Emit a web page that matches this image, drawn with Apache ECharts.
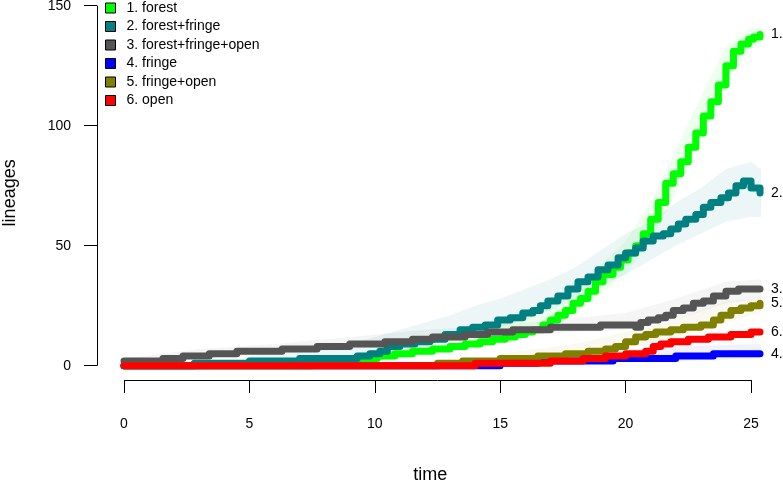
<!DOCTYPE html>
<html><head><meta charset="utf-8">
<script src="https://cdn.jsdelivr.net/npm/echarts@6/dist/echarts.min.js"></script>
<style>html,body{margin:0;padding:0;background:#fff}#c{width:783px;height:481px}</style>
</head><body><div id="c"></div>
<script>
// ---------- data ----------
const seriesNames = ['1. forest', '2. forest+fringe', '3. forest+fringe+open', '4. fringe', '5. fringe+open', '6. open'];
const endTags = ['1.', '2.', '3.', '4.', '5.', '6.'];
const xTicks = [0, 5, 10, 15, 20, 25];
const yTicks = [0, 50, 100, 150];

// [time, lineages]
const forest = [[0,0],[7.5,1],[8.8,2],[9.4,3],[10.1,4],[10.8,5],[11.5,6],[12.3,7],[13,8],[13.6,9],[14.2,10],[14.7,11],[15.2,12],[15.6,13],[16,14],[16.3,15],[16.7,17],[17,19],[17.3,21],[17.6,23],[17.9,26],[18.2,28],[18.5,31],[18.8,35],[19.1,38],[19.5,41],[19.8,44],[20.1,47],[20.4,50],[20.7,55],[21,61],[21.3,68],[21.6,76],[21.9,80],[22.2,85],[22.5,91],[22.8,97],[23.1,104],[23.4,110],[23.7,117],[24,125],[24.3,131],[24.6,134],[24.9,136],[25.1,137],[25.36,138]];
const forestFringe = [[0,0],[2.8,1],[5,2],[7,3],[9.3,4],[9.8,5],[10.2,6],[10.5,8],[11,9],[11.6,10],[12.2,11],[12.8,13],[13.4,15],[13.9,16],[14.4,17],[14.9,19],[15.4,20],[15.9,22],[16.3,23],[16.6,25],[16.9,27],[17.3,29],[17.7,32],[18.1,35],[18.5,37],[18.9,40],[19.3,42],[19.7,45],[20,47],[20.4,49],[20.7,52],[21.1,54],[21.5,55],[21.8,57],[22.1,59],[22.4,61],[22.8,63],[23.1,66],[23.4,68],[23.8,70],[24.1,72],[24.4,75],[24.7,77],[25,74],[25.36,72]];
const forestFringeOpen = [[0,2],[1.55,3],[2.35,4],[3.4,5],[4.5,6],[6.3,7],[7.7,8],[9,9],[10.4,10],[11.5,11],[12.3,12],[13.6,13],[14.5,14],[15.5,15],[17,16],[19,17],[20.4,16],[20.6,18],[20.9,19],[21.3,20],[21.6,21],[21.9,23],[22.3,24],[22.7,26],[23.1,27],[23.5,29],[24,31],[24.5,32],[25.36,32]];
const fringe = [[0,0],[15,1],[16.5,2],[19.5,3],[22,4],[23.5,5],[25.36,5]];
const fringeOpen = [[0,0],[12.5,1],[13.5,2],[15,3],[16.5,4],[17.6,5],[18.5,6],[19.2,7],[19.6,8],[20,10],[20.4,12],[20.8,13],[21.2,14],[21.8,15],[22.3,16],[23,17],[23.5,19],[23.8,21],[24.2,23],[24.6,24],[25,25],[25.36,26]];
const open = [[0,0],[14,1],[17,2],[18.3,3],[19.2,4],[20,5],[20.8,6],[21.1,8],[21.4,9],[21.8,10],[22.5,11],[23.3,12],[24.2,13],[25,14],[25.36,14]];

// spread of the simulated trajectories: [time, low, high]
const forestBand = [[9,1,4],[10,2,7],[11,3,9],[12,5,11],[13,6,13],[14,8,16],[15,10,19],[16,13,23],[17,17,27],[18,22,33],[19,30,42],[20,38,52],[21,52,68],[22,72,90],[23,95,112],[24,118,133],[25,132,141],[25.4,134,141]];
const forestFringeBand = [[5,1,4],[7,2,6],[9,3,9],[10,4,12],[11,6,15],[12,8,18],[13,11,21],[14,13,25],[15,16,28],[16,19,32],[17,23,36],[18,28,41],[19,33,48],[20,38,55],[21,44,60],[22,50,68],[23,55,74],[24,60,82],[25,62,85],[25.4,62,82]];
const forestFringeOpenBand = [[0,1,3],[3,3,7],[6,5,9],[9,7,12],[12,9,15],[15,12,17],[18,14,20],[20,15,22],[22,19,28],[24,26,35],[25.4,28,36]];
const fringeBand = [[15,0,3],[18,1,5],[20,2,6],[22,2,8],[25.4,3,9]];
const fringeOpenBand = [[15,1,5],[18,3,9],[20,7,14],[22,12,19],[24,18,27],[25.4,22,28]];

// ---------- chart ----------
const mainData = [forest, forestFringe, forestFringeOpen, fringe, fringeOpen, open];
const colors = ['#00ff00', '#008080', '#555555', '#0000ff', '#808000', '#ff0000'];
const bands = [
  {data: forestBand, color: 'rgba(0,255,0,0.07)'},
  {data: forestFringeBand, color: 'rgba(0,128,128,0.07)'},
  {data: forestFringeOpenBand, color: 'rgba(0,0,0,0.04)'},
  {data: fringeBand, color: 'rgba(0,0,255,0.05)'},
  {data: fringeOpenBand, color: 'rgba(128,128,0,0.05)'}
];
const FONT = '"Liberation Sans", Arial, Helvetica, sans-serif';
const X_MIN = -1.0766, X_MAX = 25.5, Y_MIN = -5.96, Y_MAX = 150;

const chart = echarts.init(document.getElementById('c'), null, {renderer: 'canvas'});

const series = [];
bands.forEach((b, bi) => {
  series.push({
    type: 'custom',
    name: 'band' + bi,
    z: 1,
    silent: true,
    data: b.data,
    encode: {x: 0, y: [1, 2]},
    renderItem: function (params, api) {
      if (params.dataIndex !== 0) return null;
      const pts = [];
      b.data.forEach(d => pts.push(api.coord([d[0], d[2]])));
      for (let i = b.data.length - 1; i >= 0; i--) pts.push(api.coord([b.data[i][0], b.data[i][1]]));
      return {type: 'polygon', shape: {points: pts}, style: {fill: b.color}};
    }
  });
});
mainData.forEach((d, i) => {
  series.push({
    type: 'line',
    name: seriesNames[i],
    data: d,
    step: 'end',
    z: 2 + i,
    symbol: 'none',
    color: colors[i],
    lineStyle: {width: 7, color: colors[i], cap: 'round', join: 'round'},
    endLabel: {show: true, formatter: endTags[i], distance: 11, color: '#000', fontSize: 14, fontFamily: FONT},
    emphasis: {disabled: true}
  });
});

chart.setOption({
  animation: false,
  backgroundColor: '#fff',
  grid: {left: 97, top: 5.7, width: 25.08 * (X_MAX - X_MIN), height: 374.3, containLabel: false, outerBoundsMode: 'none'},
  legend: {
    data: seriesNames,
    orient: 'vertical',
    left: 105, top: 1,
    padding: 0,
    icon: 'rect',
    itemWidth: 10, itemHeight: 10,
    itemGap: 4.5,
    itemStyle: {borderColor: '#000', borderWidth: 1},
    textStyle: {fontSize: 14, fontFamily: FONT, color: '#000', lineHeight: 14, padding: [0, 0, 0, 6]},
    selectedMode: false
  },
  xAxis: {
    type: 'value', min: X_MIN, max: X_MAX,
    name: 'time', nameLocation: 'middle', nameGap: 86,
    nameTextStyle: {fontSize: 18, fontFamily: FONT, color: '#000'},
    axisLine: {show: false, onZero: false},
    axisTick: {show: true, inside: false, length: 13, customValues: xTicks, lineStyle: {color: '#000', width: 1}},
    axisLabel: {show: true, margin: 37, customValues: xTicks, fontSize: 14, fontFamily: FONT, color: '#000'},
    splitLine: {show: false}
  },
  yAxis: {
    type: 'value', min: Y_MIN, max: Y_MAX,
    name: 'lineages', nameLocation: 'middle', nameGap: 78,
    nameTextStyle: {fontSize: 18, fontFamily: FONT, color: '#000'},
    axisLine: {show: false, onZero: false},
    axisTick: {show: true, inside: false, length: 13, customValues: yTicks, lineStyle: {color: '#000', width: 1}},
    axisLabel: {show: true, margin: 26, customValues: yTicks, fontSize: 14, fontFamily: FONT, color: '#000'},
    splitLine: {show: false}
  },
  series: series
});

// R-style axis lines spanning only the tick range
const px = (v) => chart.convertToPixel({gridIndex: 0}, v);
const yA = px([X_MIN, yTicks[0]]), yB = px([X_MIN, yTicks[yTicks.length - 1]]);
const xA = px([xTicks[0], Y_MIN]), xB = px([xTicks[xTicks.length - 1], Y_MIN]);
chart.setOption({
  graphic: [
    {type: 'line', z: 100, shape: {x1: Math.round(yA[0]) + 0.5, y1: yA[1], x2: Math.round(yB[0]) + 0.5, y2: yB[1]}, style: {stroke: '#000', lineWidth: 1}},
    {type: 'line', z: 100, shape: {x1: xA[0], y1: Math.round(xA[1]) + 0.5, x2: xB[0], y2: Math.round(xB[1]) + 0.5}, style: {stroke: '#000', lineWidth: 1}}
  ]
});
</script></body></html>
